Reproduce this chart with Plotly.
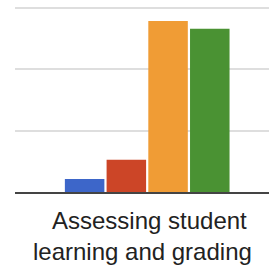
import plotly.graph_objects as go

categories = ["Assessing student learning and grading"]
series_names = ["Series 1", "Series 2", "Series 3", "Series 4"]
series_values = [[2.1], [5.25], [27.9], [26.6]]
colors = ["#3d66c9", "#cc4527", "#f09c35", "#4a9233"]
label_lines = ["Assessing student", "learning and grading"]

W, H = 269, 266
ML, MR, MT, MB = 15, 0, 4, 74
plot_w = W - ML - MR
plot_h = H - MT - MB
# top gridline (30) sits at pixel row 8; baseline at 192
y_max = 30 * plot_h / (H - MB - 8)

fig = go.Figure()
for name, vals, col in zip(series_names, series_values, colors):
    fig.add_trace(go.Bar(x=categories, y=vals, name=name, marker=dict(color=col, line=dict(width=0))))

def px_to_paper_y(py):
    return (H - MB - py) / plot_h

def px_to_paper_x(px):
    return (px - ML) / plot_w

fig.add_annotation(text=label_lines[0], xref="paper", yref="paper",
                   x=px_to_paper_x(149), y=px_to_paper_y(220), showarrow=False,
                   xanchor="center", yanchor="middle",
                   font=dict(family="Liberation Sans, Arial", size=24, color="#222222"))
fig.add_annotation(text=label_lines[1], xref="paper", yref="paper",
                   x=px_to_paper_x(142.5), y=px_to_paper_y(252), showarrow=False,
                   xanchor="center", yanchor="middle",
                   font=dict(family="Liberation Sans, Arial", size=24, color="#222222"))

fig.update_layout(
    width=W, height=H,
    margin=dict(l=ML, r=MR, t=MT, b=MB, pad=0),
    paper_bgcolor="white", plot_bgcolor="white",
    showlegend=False,
    barmode="group", bargap=0.343, bargroupgap=0.053,
    xaxis=dict(range=[-0.5205, 0.4795], showticklabels=False, showgrid=False,
               showline=True, linecolor="#444444", linewidth=2, ticks="", zeroline=False,
               fixedrange=True),
    yaxis=dict(range=[0, y_max], tickvals=[0, 10, 20, 30], showticklabels=False, showgrid=True,
               gridcolor="#dedede", gridwidth=1.5, zeroline=False, showline=False,
               ticks="", fixedrange=True),
)

fig.write_html("out.html", config={"displayModeBar": False},
               post_script="document.body.style.margin='0';document.body.style.overflow='hidden';")
